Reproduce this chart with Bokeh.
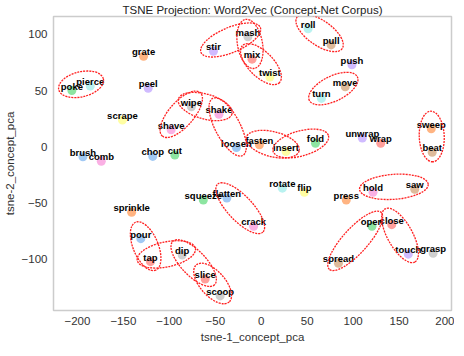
import math
from bokeh.plotting import figure
from bokeh.models import ColumnDataSource, FixedTicker, Range1d
from bokeh.embed import file_html
from bokeh.resources import INLINE
from bokeh.core.properties import value

# ---------------- data ----------------
words = ["stir", "grate", "poke", "pierce", "peel", "wipe", "shake", "scrape", "shave",
         "brush", "comb", "chop", "cut", "mash", "mix", "twist", "roll", "pull", "push",
         "move", "turn", "loosen", "fasten", "insert", "fold", "unwrap", "wrap", "sweep",
         "beat", "squeeze", "flatten", "sprinkle", "pour", "tap", "dip", "slice", "scoop",
         "crack", "rotate", "flip", "press", "hold", "saw", "open", "close", "touch",
         "grasp", "spread"]
xs = [-52, -128, -206, -186, -123, -76, -46, -151, -98,
      -194, -174, -118, -94, -14.5, -10, 9.4, 51, 76, 98.7,
      91.4, 65.5, -27, -2, 27, 59, 110, 130, 185,
      186, -63, -37.4, -141, -131, -120.5, -86, -61, -44.7,
      -8.3, 23, 47, 92.5, 121.6, 167, 120.5, 142, 160,
      187, 84]
ys = [85, 80.5, 50, 54, 52, 35.6, 28.8, 23.7, 15,
      -9, -13, -8.7, -7.4, 98, 78, 62, 105, 90.7, 73,
      53.4, 43, -0.8, 1.7, -4.4, 3, 7.7, 3, 16,
      -5, -47.5, -45.8, -58.5, -82, -102.5, -96.6, -118, -133,
      -71, -37, -40.7, -47.5, -40.7, -38, -71, -69.5, -95.8,
      -95, -104]
color_keys = ["purple", "orange", "green", "cyan", "purple", "gray", "pink", "yellow", "pink",
              "blue", "pink", "blue", "green", "gray", "red", "yellow", "cyan", "brown", "purple",
              "brown", "cyan", "blue", "orange", "yellow", "green", "purple", "red", "orange",
              "brown", "green", "blue", "orange", "blue", "red", "gray", "red", "gray",
              "pink", "cyan", "yellow", "orange", "pink", "brown", "green", "red", "purple",
              "gray", "brown"]
pairs = [("poke", "pierce"), ("stir", "mash"), ("mash", "mix"), ("mix", "twist"),
         ("roll", "pull"), ("move", "turn"), ("wipe", "shave"), ("wipe", "shake"),
         ("shake", "loosen"), ("fasten", "insert"), ("insert", "fold"), ("sweep", "beat"),
         ("flatten", "crack"), ("hold", "saw"), ("open", "spread"), ("close", "touch"),
         ("pour", "tap"), ("tap", "dip"), ("dip", "slice"), ("slice", "scoop")]
x_ticks = [-200, -150, -100, -50, 0, 50, 100, 150, 200]
y_ticks = [-100, -50, 0, 50, 100]

palette = {"blue": "#a1c9f4", "orange": "#ffb482", "green": "#8de5a1", "red": "#ff9f9b",
           "purple": "#d0bbff", "brown": "#debb9b", "pink": "#fab0e4", "gray": "#cfcfcf",
           "yellow": "#fffea3", "cyan": "#b9f2f0"}

# ---------------- figure ----------------
X0, X1 = -226, 207
Y0, Y1 = -146, 116
FW, FH = 398, 294
FONT = "Liberation Sans"

p = figure(frame_width=FW, frame_height=FH,
           x_range=Range1d(X0, X1), y_range=Range1d(Y0, Y1),
           output_backend="svg", toolbar_location=None,
           title="TSNE Projection: Word2Vec (Concept-Net Corpus)",
           min_border_left=0, min_border_right=3, min_border_top=0, min_border_bottom=0)

p.title.align = "center"
p.title.text_font = FONT
p.title.text_font_size = "11.5px"
p.title.text_font_style = "normal"
p.title.text_color = "#222222"
p.title.standoff = 2

p.grid.visible = False
p.outline_line_color = "#cccccc"
p.outline_line_width = 1.5
p.background_fill_color = "white"
p.border_fill_color = "white"

for ax in (p.xaxis[0], p.yaxis[0]):
    ax.axis_line_color = None
    ax.major_tick_line_color = None
    ax.minor_tick_line_color = None
    ax.major_tick_out = 0
    ax.major_label_standoff = 6
    ax.major_label_text_font = FONT
    ax.major_label_text_font_size = "11.5px"
    ax.major_label_text_color = "#333333"
    ax.axis_label_text_font = FONT
    ax.axis_label_text_font_size = "11.5px"
    ax.axis_label_text_font_style = "normal"
    ax.axis_label_text_color = "#333333"
    ax.axis_label_standoff = 3

p.xaxis.ticker = FixedTicker(ticks=x_ticks)
p.yaxis.ticker = FixedTicker(ticks=y_ticks)
p.xaxis.axis_label = "tsne-1_concept_pca"
p.yaxis.axis_label = "tsne-2_concept_pca"

src = ColumnDataSource(dict(x=xs, y=ys, w=words, c=[palette[k] for k in color_keys]))
p.scatter("x", "y", source=src, size=9, fill_color="c", line_color=None)
p.text("x", "y", text="w", source=src, text_align="center", text_baseline="bottom",
       y_offset=1, text_font=value(FONT), text_font_size="9.5px",
       text_font_style="bold", text_color="black")

# ellipses around related pairs (computed in screen space)
sx = FW / (X1 - X0)
sy = FH / (Y1 - Y0)
idx = {w: i for i, w in enumerate(words)}
ex, ey, ew, eh, ea = [], [], [], [], []
for a, b in pairs:
    xa, ya = xs[idx[a]], ys[idx[a]]
    xb, yb = xs[idx[b]], ys[idx[b]]
    dxp = (xb - xa) * sx
    dyp = (yb - ya) * sy
    dist = math.hypot(dxp, dyp)
    ex.append((xa + xb) / 2)
    ey.append((ya + yb) / 2 + 4 / sy)
    ew.append(dist + 27)
    eh.append(25)
    ea.append(math.atan2(dyp, dxp))
esrc = ColumnDataSource(dict(x=ex, y=ey, w=ew, h=eh, a=ea))
p.ellipse("x", "y", width="w", height="h", angle="a", source=esrc,
          width_units="screen", height_units="screen",
          fill_color=None, line_color="#ff2020", line_width=1.3, line_dash="2 1")

open("out.html", "w").write(file_html(p, INLINE))
